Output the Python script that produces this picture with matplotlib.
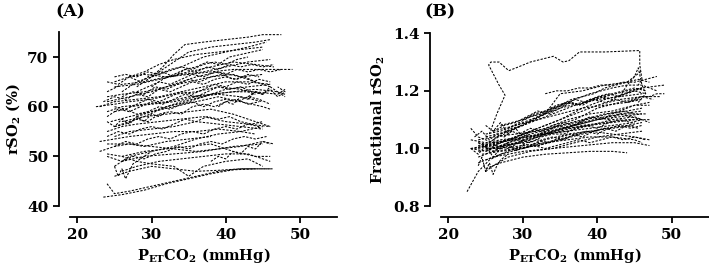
import matplotlib
matplotlib.use("Agg")
import matplotlib.pyplot as plt
from matplotlib.ticker import FormatStrFormatter

plt.rcParams['font.family'] = 'DejaVu Serif'
plt.rcParams['font.weight'] = 'bold'
plt.rcParams['axes.labelweight'] = 'bold'
plt.rcParams['mathtext.fontset'] = 'custom'
plt.rcParams['mathtext.rm'] = 'DejaVu Serif:bold'
plt.rcParams['mathtext.it'] = 'DejaVu Serif:bold'
plt.rcParams['mathtext.bf'] = 'DejaVu Serif:bold'

# panel A: rSO2 (%) traces, one list per subject
a_x = [
    [30, 31.5, 33, 34.5, 37, 40, 43, 45, 47.5],
    [28, 30, 32, 35, 38, 41, 44, 46],
    [26, 28, 31, 34, 37, 40, 43, 45.5],
    [24, 26, 29, 32, 35, 38, 41, 44, 47, 49],
    [25, 27, 29, 32, 35, 38, 41, 44, 46.5],
    [24, 27, 30, 33, 36, 39, 42, 45],
    [23, 25, 28, 31, 34, 37, 40, 43, 46],
    [22.5, 25, 27, 30, 33, 36, 39, 42, 44],
    [24, 26, 29, 32, 35, 38, 41, 44, 47, 48],
    [24.5, 27, 30, 33, 36, 39, 42, 45, 46],
    [25, 27, 29, 32, 35, 38, 41, 44, 46],
    [24, 26, 28, 31, 34, 37, 40, 43, 46],
    [25, 27, 30, 33, 36, 39, 42, 45],
    [23, 25, 27, 30, 33, 36, 39, 42, 44],
    [23, 25, 27, 29, 32, 35, 38],
    [24, 27, 30, 33, 36, 39, 42, 45, 46.5],
    [24, 26, 29, 32, 35, 38, 41, 44, 46],
    [26, 28, 31, 34, 37, 40, 43, 46],
    [25, 27, 30, 33, 36, 39, 42, 45, 46.5],
    [24, 25, 27, 30, 33, 36, 39, 42, 46],
    [23.5, 26, 29, 32, 35, 38, 41, 44],
    [26, 28, 30, 33, 35, 37, 40, 43, 45],
    [27, 29, 31, 33, 36, 39, 42, 45],
    [25, 28, 31, 34, 37, 40, 43, 46],
    [28, 31, 34, 37, 40, 43, 46],
    [26, 29, 32, 35, 38, 41, 44, 47, 48],
    [24, 26, 29, 32, 35, 38, 41, 44, 46],
    [25, 27, 30, 33, 36, 39, 42, 45],
    [24, 26, 29, 33, 37, 41, 45],
    [27, 30, 33, 36, 39, 42, 45],
    [23.5, 25, 26.5, 28, 29.5, 31, 32.5, 34, 35.5, 37, 38.5, 40, 41.5, 43, 44.5],
    [24, 25.5, 27, 28.5, 30, 31.5, 33, 34.5, 36, 37.5, 39, 40.5, 42, 43.5, 45],
    [25, 26.5, 28, 29.5, 31, 32.5, 34, 35.5, 37, 38.5, 40, 41.5, 43, 44.5, 46],
    [24, 25.5, 27, 28.5, 30, 31.5, 33, 34.5, 36, 37.5, 39, 40.5, 42, 43.5, 45, 46.5],
    [26, 27.5, 29, 30.5, 32, 33.5, 35, 36.5, 38, 39.5, 41, 42.5, 44],
    [25, 26.5, 28, 29.5, 31, 32.5, 34, 35.5, 37, 38.5, 40, 41.5, 43, 44.5],
    [24, 25.5, 27, 28.5, 30, 31.5, 33, 34.5, 36, 37.5, 39, 40.5, 42, 43.5, 45],
    [25, 26.5, 28, 29.5, 31, 32.5, 34, 35.5, 37, 38.5, 40, 41.5, 43, 44.5],
    [26, 27.5, 29, 30.5, 32, 33.5, 35, 36.5, 38, 39.5, 41, 42.5, 44, 45.5],
    [25, 26.5, 28, 29.5, 31, 32.5, 34, 35.5, 37, 38.5, 40, 41.5, 43, 44.5, 46],
    [28, 29.5, 31, 32.5, 34, 35.5, 37, 38.5, 40, 41.5, 43, 44.5, 46, 47.5],
    [30, 31.5, 33, 34.5, 36, 37.5, 39, 40.5, 42, 43.5, 45],
    [25, 26.5, 28, 29.5, 31, 32.5, 34, 35.5, 37, 38.5, 40, 41.5, 43],
    [24, 25, 26, 27, 28, 29, 30, 31, 32],
    [25, 25.5, 26, 26.5, 27, 27.5, 28, 29, 30],
    [38, 39, 40, 41, 42, 43, 44, 45, 46],
    [39, 40, 41, 42, 43, 44, 45, 46, 47, 48],
    [43, 44, 45, 46, 47, 48, 47],
]
a_y = [
    [66, 68, 70.5, 72.5, 73, 73.5, 74, 74.5, 74.5],
    [64, 66, 68, 71, 72, 72.5, 73, 73.5],
    [63, 65, 66.5, 68, 70, 71, 72, 73],
    [63, 64.5, 65, 66, 66.5, 67, 67.5, 67.5, 67.5, 67.5],
    [65, 66, 66.5, 66, 67, 68, 69, 68.5, 68],
    [61, 62, 63, 64.5, 66, 67, 66, 66.5],
    [60, 61, 61.5, 62, 63, 64, 65, 65, 64.5],
    [60, 60.5, 61, 61.5, 62.5, 63, 64, 63.5, 62.5],
    [59, 60, 60.5, 61, 62, 62.5, 63, 63, 62.5, 63.5],
    [57, 58, 59, 60, 61, 62, 61, 60, 59.5],
    [56, 57, 58, 58.5, 59, 59.5, 58.5, 57, 56],
    [55, 56, 56.5, 57, 57.5, 58, 57, 56.5, 56],
    [54, 55, 55.5, 56, 57, 56.5, 56, 55.5],
    [53, 53.5, 54, 54.5, 55, 55, 55.5, 55, 54.5],
    [51, 52, 52.5, 52, 53, 53.5, 54],
    [52.5, 52.5, 52, 51.5, 51, 51.5, 52, 53, 52.5],
    [50.5, 50, 51, 51.5, 52, 52.5, 51, 50, 50],
    [47, 48, 49, 49.5, 50, 50.5, 50.5, 49],
    [46, 47, 48, 47.5, 47, 47.2, 47.5, 47.5, 47.5],
    [44.5, 42.5, 43, 44, 45, 46, 47, 47.5, 47.5],
    [41.8, 42.3, 43.2, 44.5, 45.5, 46.5, 47.3, 47.5],
    [50, 49, 48.5, 48, 46, 48, 49, 49.5, 48],
    [66, 67, 68.5, 69.5, 70.5, 71, 71.5, 72],
    [64, 64.5, 65.5, 66.5, 67, 68, 69, 69.5],
    [58, 59.5, 61, 62, 63.5, 64, 64.5],
    [57, 58, 60, 61, 62.5, 63, 63.5, 63, 62],
    [62, 62.5, 63, 64, 65, 66, 66.5, 65, 64],
    [48, 50, 51, 52, 53.5, 54.5, 55, 56],
    [50, 49, 50, 50.5, 51, 52, 52.5],
    [60, 60.5, 61, 62, 62.5, 62, 61],
    [61, 62, 61.5, 62.5, 62, 63.5, 63, 64, 65, 64.5, 65.5, 66, 65.5, 66.5, 66],
    [58, 59.5, 59, 60, 61, 60.5, 61.5, 62.5, 62, 63, 64, 63.5, 64, 63, 62.5],
    [60, 59.5, 60.5, 61.5, 61, 62, 63, 62.5, 63.5, 64.5, 64, 65, 64.5, 65.5, 65],
    [65, 64.5, 66, 65, 66.5, 67, 66, 67.5, 67, 68, 67.5, 68.5, 68, 68.5, 68, 68.5],
    [62, 63, 62.5, 64, 63.5, 64.5, 65.5, 65, 66, 66.5, 65.5, 66, 65],
    [56, 56.5, 57.5, 57, 58.5, 59, 58.5, 60, 60.5, 60, 61, 61.5, 60.5, 61],
    [54, 55, 54.5, 55.5, 56, 55.5, 56.5, 57.5, 57, 58, 57.5, 58, 57, 56.5, 57],
    [52, 53, 52.5, 53.5, 54, 53.5, 54.5, 55, 54.5, 55.5, 56, 55.5, 56.5, 56],
    [49, 50, 49.5, 50.5, 51, 52, 51.5, 52.5, 53, 52.5, 53.5, 54, 53.5, 54],
    [59, 59.5, 58.5, 59, 60, 59.5, 60.5, 61, 60, 61, 61.5, 61, 62, 61.5, 60.5],
    [63, 64, 65, 64.5, 65.5, 66.5, 66, 67, 66.5, 67.5, 67, 67.5, 67, 67.5],
    [64, 65.5, 66.5, 67.5, 68, 69, 68.5, 70, 70.5, 71, 71.5],
    [66, 66.5, 66, 67, 66.5, 67.5, 68, 67.5, 68.5, 69, 68.5, 69.5, 70],
    [57, 56, 57.5, 56.5, 58, 57, 58.5, 58, 59],
    [48, 46, 47.5, 45.5, 47, 48.5, 49, 50, 51],
    [49, 50, 49.5, 51, 50.5, 52, 51.5, 53, 52.5],
    [60, 61, 60.5, 62, 61.5, 63, 62.5, 64, 63, 62.5],
    [62, 63, 62.5, 63.5, 62, 63, 64],
]

# panel B: fractional rSO2 traces
b_x = [
    [25.5, 26.5, 27.6, 26.8, 25.4, 25.7, 26.8, 28.1, 29.1, 31, 34.1, 35.4, 36.2, 37.6, 41, 45.7, 45.7, 46, 45.5],
    [23, 25, 28, 31, 34, 37, 40, 43, 46, 48.5],
    [24, 26, 29, 32, 35, 38, 41, 44, 46, 49],
    [25, 27, 30, 33, 35, 38, 41, 44, 46],
    [24, 26, 29, 32, 35, 38, 41, 44, 47],
    [23, 25, 27, 30, 33, 36, 39, 42, 45, 47],
    [25, 27, 30, 33, 36, 39, 42, 45],
    [24, 26, 29, 32, 35, 38, 41, 44, 46],
    [25, 27, 30, 33, 36, 39, 42, 44],
    [24, 26, 30, 34, 38, 42, 45, 47],
    [22.5, 24, 25.5, 27, 29, 32, 35],
    [25, 27, 29, 32, 35, 38, 41, 44, 46],
    [26, 28, 31, 34, 37, 40, 43, 45, 47],
    [23, 25, 27, 30, 33, 36, 39, 42, 45],
    [24.5, 27, 30, 33, 36, 39, 42, 45, 47],
    [25, 27, 30, 33, 36, 39, 42, 45, 46],
    [27, 30, 33, 36, 39, 42, 44, 46, 48],
    [26, 29, 32, 35, 38, 41, 44, 46],
    [23, 24, 26, 28, 31, 34, 37, 40, 43, 46],
    [24, 26, 28, 31, 34, 37, 40, 43, 46],
    [25, 26, 28, 31, 34, 37, 40, 43, 46],
    [24, 27, 30, 33, 36, 39, 42, 45, 47],
    [26, 28, 30, 33, 36, 39, 42, 45],
    [25, 28, 31, 34, 37, 40, 43, 46],
    [24, 26, 29, 32, 35, 38, 41, 44, 46.5],
    [26, 29, 32, 35, 38, 41, 44, 46],
    [23.5, 25, 26.5, 28, 29.5, 31, 32.5, 34, 35.5, 37, 38.5, 40, 41.5, 43, 44.5, 46],
    [24, 25.5, 27, 28.5, 30, 31.5, 33, 34.5, 36, 37.5, 39, 40.5, 42, 43.5, 45],
    [25, 26.5, 28, 29.5, 31, 32.5, 34, 35.5, 37, 38.5, 40, 41.5, 43, 44.5, 46, 47.5],
    [24.5, 26, 27.5, 29, 30.5, 32, 33.5, 35, 36.5, 38, 39.5, 41, 42.5, 44, 45.5],
    [26, 27.5, 29, 30.5, 32, 33.5, 35, 36.5, 38, 39.5, 41, 42.5, 44, 45.5, 47],
    [27, 28.5, 30, 31.5, 33, 34.5, 36, 37.5, 39, 40.5, 42, 43.5, 45, 46.5],
    [23, 24, 25, 26, 27, 28, 29, 30],
    [24, 24.5, 25, 25.5, 26, 26.5, 27, 28],
    [23.5, 24.5, 25.5, 26.5, 27.5, 28.5, 29.5, 31, 32.5, 34, 35.5, 37, 38.5, 40, 41.5, 43, 44.5, 46],
    [25, 26, 27, 28, 29, 30, 31],
    [28, 29.5, 31, 32.5, 34, 35.5, 37, 38.5, 40, 41.5, 43, 44.5, 46],
    [30, 31.5, 33, 34.5, 36, 37.5, 39, 40.5, 42, 43.5, 45, 46.5],
    [43, 44, 45, 45.5, 46, 46.5, 45.5],
    [44, 45, 46, 47, 48, 49],
    [30, 31.5, 33, 34.5, 36, 37.5, 39, 40.5, 42, 43.5, 45, 46.5],
    [28, 29.5, 31, 32.5, 34, 35.5, 37, 38.5, 40, 41.5, 43, 44.5, 46],
    [33, 34.5, 36, 37.5, 39, 40.5, 42, 43.5, 45, 46.5, 48],
    [26, 27.5, 29, 30.5, 32, 33.5, 35, 36.5, 38, 39.5, 41, 42.5, 44, 45.5],
]
b_y = [
    [1.05, 1.12, 1.185, 1.22, 1.29, 1.30, 1.30, 1.27, 1.28, 1.30, 1.32, 1.30, 1.305, 1.335, 1.335, 1.34, 1.29, 1.24, 1.22],
    [1.0, 1.01, 1.03, 1.06, 1.09, 1.12, 1.15, 1.17, 1.18, 1.18],
    [1.02, 1.01, 1.04, 1.07, 1.10, 1.14, 1.17, 1.19, 1.21, 1.22],
    [1.01, 1.05, 1.08, 1.12, 1.19, 1.20, 1.22, 1.23, 1.27],
    [0.99, 1.00, 1.02, 1.04, 1.06, 1.08, 1.09, 1.10, 1.10],
    [1.0, 0.99, 1.01, 1.02, 1.05, 1.07, 1.08, 1.10, 1.11, 1.09],
    [0.96, 0.98, 1.0, 1.02, 1.04, 1.06, 1.07, 1.08],
    [1.03, 1.04, 1.05, 1.06, 1.08, 1.10, 1.12, 1.13, 1.14],
    [0.93, 0.95, 0.97, 0.98, 0.985, 0.99, 0.99, 0.985],
    [0.95, 0.97, 0.99, 1.0, 1.01, 1.02, 1.02, 1.01],
    [0.85, 0.92, 0.96, 0.98, 1.0, 1.01, 1.03],
    [1.05, 1.06, 1.08, 1.10, 1.12, 1.14, 1.15, 1.16, 1.17],
    [1.0, 1.02, 1.05, 1.07, 1.09, 1.11, 1.13, 1.15, 1.16],
    [1.03, 1.02, 1.03, 1.04, 1.05, 1.06, 1.07, 1.08, 1.09],
    [0.98, 0.99, 1.0, 1.03, 1.05, 1.06, 1.05, 1.04, 1.03],
    [1.0, 1.0, 1.01, 1.02, 1.03, 1.04, 1.04, 1.03, 1.02],
    [1.08, 1.10, 1.13, 1.16, 1.19, 1.21, 1.22, 1.22, 1.20],
    [1.06, 1.08, 1.11, 1.14, 1.16, 1.18, 1.20, 1.21],
    [1.07, 1.04, 1.02, 1.03, 1.04, 1.06, 1.08, 1.10, 1.12, 1.13],
    [0.97, 0.99, 1.01, 1.03, 1.06, 1.08, 1.10, 1.11, 1.12],
    [0.92, 0.94, 0.97, 0.99, 1.0, 1.02, 1.04, 1.05, 1.06],
    [1.0, 1.02, 1.05, 1.07, 1.10, 1.12, 1.13, 1.15, 1.15],
    [1.01, 1.03, 1.03, 1.05, 1.06, 1.08, 1.09, 1.10],
    [1.04, 1.06, 1.09, 1.12, 1.15, 1.17, 1.18, 1.19],
    [1.01, 1.02, 1.03, 1.05, 1.07, 1.09, 1.11, 1.12, 1.12],
    [0.99, 1.0, 1.01, 1.03, 1.05, 1.07, 1.08, 1.09],
    [1.0, 1.01, 1.0, 1.02, 1.03, 1.02, 1.04, 1.05, 1.05, 1.07, 1.08, 1.07, 1.09, 1.10, 1.09, 1.10],
    [1.02, 1.0, 1.02, 1.03, 1.05, 1.04, 1.06, 1.08, 1.07, 1.09, 1.11, 1.10, 1.12, 1.13, 1.12],
    [0.99, 1.01, 1.0, 1.02, 1.04, 1.05, 1.07, 1.09, 1.10, 1.12, 1.14, 1.15, 1.16, 1.17, 1.18, 1.17],
    [1.01, 0.99, 1.01, 1.0, 1.02, 1.03, 1.02, 1.04, 1.05, 1.04, 1.06, 1.07, 1.06, 1.08, 1.07],
    [1.03, 1.05, 1.07, 1.09, 1.11, 1.13, 1.15, 1.17, 1.18, 1.19, 1.21, 1.22, 1.23, 1.24, 1.23],
    [1.05, 1.07, 1.08, 1.10, 1.12, 1.14, 1.16, 1.15, 1.17, 1.18, 1.17, 1.19, 1.20, 1.19],
    [1.0, 0.98, 1.01, 0.97, 1.0, 1.02, 0.99, 1.01],
    [0.94, 0.97, 0.92, 0.95, 0.91, 0.94, 0.96, 0.98],
    [1.04, 1.06, 1.03, 1.05, 1.04, 1.06, 1.05, 1.07, 1.06, 1.08, 1.09, 1.08, 1.10, 1.11, 1.10, 1.12, 1.11, 1.10],
    [1.08, 1.06, 1.09, 1.05, 1.07, 1.04, 1.06],
    [1.01, 1.02, 1.01, 1.03, 1.04, 1.03, 1.05, 1.06, 1.05, 1.07, 1.08, 1.07, 1.08],
    [1.0, 1.01, 1.0, 1.01, 1.02, 1.03, 1.02, 1.03, 1.04, 1.03, 1.04, 1.03],
    [1.18, 1.22, 1.25, 1.28, 1.22, 1.19, 1.16],
    [1.16, 1.17, 1.18, 1.18, 1.19, 1.19],
    [1.10, 1.12, 1.13, 1.15, 1.16, 1.15, 1.17, 1.18, 1.19, 1.20, 1.21, 1.20],
    [1.07, 1.09, 1.11, 1.12, 1.14, 1.15, 1.17, 1.16, 1.18, 1.19, 1.18, 1.20, 1.21],
    [1.19, 1.20, 1.20, 1.21, 1.21, 1.22, 1.22, 1.23, 1.23, 1.24, 1.25],
    [1.06, 1.08, 1.09, 1.11, 1.13, 1.12, 1.14, 1.16, 1.15, 1.17, 1.16, 1.17, 1.16, 1.17],
]

fig = plt.figure(figsize=(7.09, 2.68), dpi=100)
axA = fig.add_axes([0.0987, 0.231, 0.3766, 0.649])
axB = fig.add_axes([0.622, 0.231, 0.378, 0.645])

dash = (0, (2.2, 1.4))


def style(ax, ylim, yticks, ylabel):
    ax.set_xlim(19, 55)
    ax.set_ylim(*ylim)
    ax.set_xticks([20, 30, 40, 50])
    ax.set_yticks(yticks)
    ax.spines['top'].set_visible(False)
    ax.spines['right'].set_visible(False)
    for s in ['left', 'bottom']:
        ax.spines[s].set_position(('outward', 8))
        ax.spines[s].set_linewidth(1.3)
    ax.tick_params(width=1.3, length=4, labelsize=11)
    for lab in ax.get_xticklabels() + ax.get_yticklabels():
        lab.set_fontweight('bold')
    ax.set_xlabel(r'P$_{\mathrm{ET}}$CO$_2$ (mmHg)', fontsize=10.5,
                  fontweight='bold', labelpad=3)
    ax.set_ylabel(ylabel, fontsize=10.5, fontweight='bold', labelpad=4)


for xs, ys in zip(a_x, a_y):
    axA.plot(xs, ys, color='black', lw=0.75, linestyle=dash)
for xs, ys in zip(b_x, b_y):
    axB.plot(xs, ys, color='black', lw=0.75, linestyle=dash)

style(axA, (40, 75), [40, 50, 60, 70], r'rSO$_2$ (%)')
axB.yaxis.set_major_formatter(FormatStrFormatter('%.1f'))
style(axB, (0.8, 1.4), [0.8, 1.0, 1.2, 1.4], r'Fractional rSO$_2$')

fig.text(0.078, 0.955, '(A)', fontsize=12.5, fontweight='bold', va='center')
fig.text(0.598, 0.955, '(B)', fontsize=12.5, fontweight='bold', va='center')

fig.savefig('out.png', dpi=100)
